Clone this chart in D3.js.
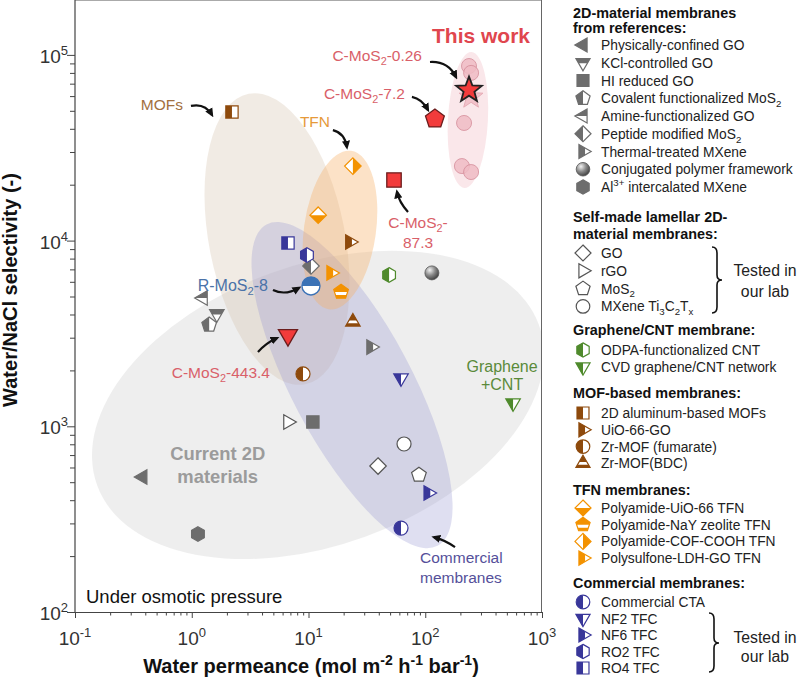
<!DOCTYPE html>
<html><head><meta charset="utf-8">
<script src="https://cdn.jsdelivr.net/npm/d3@7/dist/d3.min.js"></script>
<style>
body{margin:0;background:#fff;}
svg{display:block;font-family:"Liberation Sans",Arial,sans-serif;}
</style></head><body>
<svg id="c" width="800" height="679"></svg>
<script>
// ---------------- DATA ----------------
const names = [
  "Physically-confined GO","KCl-controlled GO","HI reduced GO","Covalent functionalized MoS_{2}",
  "Amine-functionalized GO","Peptide modified MoS_{2}","Thermal-treated MXene","Conjugated polymer framework",
  "Al^{3+} intercalated MXene",
  "GO","rGO","MoS_{2}","MXene Ti_{3}C_{2}T_{x}",
  "ODPA-functionalized CNT","CVD graphene/CNT network",
  "2D aluminum-based MOFs","UiO-66-GO","Zr-MOF (fumarate)","Zr-MOF(BDC)",
  "Polyamide-UiO-66 TFN","Polyamide-NaY zeolite TFN","Polyamide-COF-COOH TFN","Polysulfone-LDH-GO TFN",
  "Commercial CTA","NF2 TFC","NF6 TFC","RO2 TFC","RO4 TFC"
];
const permeance   = [0.38,1.64,10.9,1.41,1.25,10.5,34.3,114,1.13, 39.4,6.67,88.3,65.8, 49,565, 2.21,22.6,8.97,24, 12.1,19,24,15.6, 62,62,106,9.7,6.67];
const selectivity = [533,4030,1055,3520,4910,7300,2670,6700,263, 611,1055,547,803, 6530,1335, 49300,9820,1915,3650, 13700,5290,25200,6700, 283,1820,437,8360,9700];

// This work (other C-MoS2 samples, faded)
const thisWorkPerm = [237,247,215,206,247];
const thisWorkSel  = [87100,80000,43000,25200,23400];
const fadedStarPerm = [247];
const fadedStarSel  = [59300];

// Highlighted samples
const hlNames = ["C-MoS_{2}-0.26","C-MoS_{2}-7.2","C-MoS_{2}-87.3","C-MoS_{2}-443.4","R-MoS_{2}-8"];
const hlPerm  = [237,121,54,6.67,10.5];
const hlSel   = [64700,45200,21200,3100,5700];

// Legend groups
const groupTitles = [
  ["2D-material membranes","from references:"],
  ["Self-made lamellar 2D-","material membranes:"],
  ["Graphene/CNT membrane:"],
  ["MOF-based membranes:"],
  ["TFN membranes:"],
  ["Commercial membranes:"]
];
const groupMembers = [
  names.slice(0,9), names.slice(9,13), names.slice(13,15),
  names.slice(15,19), names.slice(19,23), names.slice(23,28)
];
const xTickLabels = [["10","-1"],["10","0"],["10","1"],["10","2"],["10","3"]];
const yTickLabels = [["10","2"],["10","3"],["10","4"],["10","5"]];

// ---------------- STYLE ----------------
const GRAY="#6d6d6d", GREEN="#4f8a2c", BROWN="#8e4a0c", ORANGE="#f39200", BLUE="#39379a", RED="#f23b3b";
const style = {};
const S=(n,shape,fill,color)=>style[n]={shape,fill,color};
S(names[0],"triLeft","full",GRAY); S(names[1],"triDown","topband",GRAY); S(names[2],"square","full",GRAY);
S(names[3],"pentagon","left",GRAY); S(names[4],"triLeft","top",GRAY); S(names[5],"diamond","left",GRAY);
S(names[6],"triRight","left",GRAY); S(names[7],"circle","sphere",GRAY); S(names[8],"hexagon","full",GRAY);
S(names[9],"diamond","none","#555"); S(names[10],"triRight","none","#555"); S(names[11],"pentagon","none","#555"); S(names[12],"circle","none","#555");
S(names[13],"hexagon","left",GREEN); S(names[14],"triDown","left",GREEN);
S(names[15],"square","left",BROWN); S(names[16],"triRight","left",BROWN); S(names[17],"circle","left",BROWN); S(names[18],"triUp","band",BROWN);
S(names[19],"diamond","bottom",ORANGE); S(names[20],"pentagon","band",ORANGE); S(names[21],"diamond","right",ORANGE); S(names[22],"triRight","left",ORANGE);
S(names[23],"circle","left",BLUE); S(names[24],"triDown","left",BLUE); S(names[25],"triRight","left",BLUE); S(names[26],"hexagon","left",BLUE); S(names[27],"square","left",BLUE);

// ---------------- SETUP ----------------
const svg = d3.select("#c");
const x = d3.scaleLog().domain([0.1,1000]).range([75,542]);
const y = d3.scaleLog().domain([100,2e5]).range([612,-1]);
const defs = svg.append("defs");

const clipRects = {left:[0,0,0.5,1],right:[0.5,0,0.5,1],top:[0,0,1,0.5],bottom:[0,0.5,1,0.5],
  topband:[0,0,1,0.38],bandW:[0,0.56,1,0.22],full:[0,0,1,1]};
Object.entries(clipRects).forEach(([k,r])=>{
  defs.append("clipPath").attr("id","cl-"+k).attr("clipPathUnits","objectBoundingBox")
    .append("rect").attr("x",r[0]).attr("y",r[1]).attr("width",r[2]).attr("height",r[3]);
});
const grad = defs.append("radialGradient").attr("id","sph").attr("cx","0.35").attr("cy","0.3").attr("r","0.75");
grad.append("stop").attr("offset","0").attr("stop-color","#f2f2f2");
grad.append("stop").attr("offset","0.5").attr("stop-color","#8a8a8a");
grad.append("stop").attr("offset","1").attr("stop-color","#3c3c3c");
defs.append("marker").attr("id","arr").attr("viewBox","0 0 10 10").attr("refX",7).attr("refY",5)
  .attr("markerWidth",9).attr("markerHeight",9).attr("markerUnits","userSpaceOnUse").attr("orient","auto")
  .append("path").attr("d","M0,0.5L10,5L0,9.5Z").attr("fill","#111");
defs.append("clipPath").attr("id","plotclip").append("rect").attr("x",75).attr("y",0).attr("width",467).attr("height",612);

function poly(n,R,a0){const p=[];for(let i=0;i<n;i++){const a=(a0+360*i/n)*Math.PI/180;p.push([R*Math.cos(a),R*Math.sin(a)]);}return "M"+p.map(d=>d[0].toFixed(2)+","+d[1].toFixed(2)).join("L")+"Z";}
function star(R){const p=[];for(let i=0;i<10;i++){const a=(-90+36*i)*Math.PI/180;const rr=i%2?R*0.42:R;p.push([rr*Math.cos(a),rr*Math.sin(a)]);}return "M"+p.map(d=>d[0].toFixed(2)+","+d[1].toFixed(2)).join("L")+"Z";}
const shapePath = {
  square:r=>{const s=r*0.88;return `M${-s},${-s}H${s}V${s}H${-s}Z`;},
  circle:r=>`M${r},0A${r},${r} 0 1,1 ${-r},0A${r},${r} 0 1,1 ${r},0Z`,
  triUp:r=>poly(3,r*1.2,-90), triDown:r=>poly(3,r*1.2,90), triLeft:r=>poly(3,r*1.2,180), triRight:r=>poly(3,r*1.2,0),
  diamond:r=>poly(4,r*1.18,-90), pentagon:r=>poly(5,r*1.1,-90), hexagon:r=>poly(6,r*1.05,-90), star:r=>star(r)
};
function marker(g, shape, fill, color, r, opts={}){
  const d = shapePath[shape](r);
  const stroke = opts.stroke||color, sw = opts.sw||1.2;
  if(fill==="full"){ g.append("path").attr("d",d).attr("fill",color).attr("stroke",stroke).attr("stroke-width",sw); return; }
  if(fill==="sphere"){ g.append("path").attr("d",d).attr("fill","url(#sph)").attr("stroke","#555").attr("stroke-width",0.8); return; }
  if(fill==="band"){
    g.append("path").attr("d",d).attr("fill",color);
    g.append("path").attr("d",d).attr("fill","#fff").attr("clip-path","url(#cl-bandW)");
  } else {
    g.append("path").attr("d",d).attr("fill","#fff");
    if(fill!=="none") g.append("path").attr("d",d).attr("fill",color).attr("clip-path",`url(#cl-${fill})`);
  }
  g.append("path").attr("d",d).attr("fill","none").attr("stroke",stroke).attr("stroke-width",sw);
}
function rich(t, str, fs){
  const re=/([_^])\{([^}]*)\}/g; let last=0,m,shift=0;
  const add=(s,off,small)=>{t.append("tspan").attr("dy",(off-shift).toFixed(2)).attr("font-size",small?fs*0.7:null).text(s);shift=off;};
  while((m=re.exec(str))){ if(m.index>last) add(str.slice(last,m.index),0,false); add(m[2], m[1]==="_"?0.28*fs:-0.42*fs, true); last=re.lastIndex; }
  if(last<str.length) add(str.slice(last),0,false);
  else if(shift!==0) t.append("tspan").attr("dy",-shift).text("");
  return t;
}

// ---------------- ELLIPSES ----------------
const eg = svg.append("g").attr("clip-path","url(#plotclip)");
const ellipses = [
  {px:12.05,py:1303, rx:235, ry:140, rot:-20, fill:"#c6c6c6", op:0.3},
  {px:5.37, py:10200,rx:68,  ry:148, rot:-11, fill:"#d5c0ac", op:0.32},
  {px:23.6, py:1667, rx:60,  ry:182, rot:-28, fill:"#9595cf", op:0.3},
  {px:18.6, py:11400,rx:36,  ry:80,  rot:8,   fill:"#f7b064", op:0.36},
  {px:232,  py:44600,rx:20,  ry:68,  rot:3,   fill:"#eeb0b8", op:0.3}
];
eg.selectAll("ellipse").data(ellipses).join("ellipse")
  .attr("transform",d=>`translate(${x(d.px)},${y(d.py)}) rotate(${d.rot})`)
  .attr("rx",d=>d.rx).attr("ry",d=>d.ry).attr("fill",d=>d.fill).attr("opacity",d=>d.op);

// ---------------- AXES ----------------
const ax = svg.append("g");
ax.append("line").attr("x1",75).attr("x2",542).attr("y1",0.5).attr("y2",0.5).attr("stroke","#aaa");
ax.append("line").attr("x1",541.5).attr("x2",541.5).attr("y1",0).attr("y2",612.5).attr("stroke","#666");
const yTicks=[], xTicks=[];
for(let k=2;k<=5;k++) for(let m=1;m<=9;m++){const v=m*Math.pow(10,k); if(v<=2e5) yTicks.push(v);}
for(let k=-1;k<=3;k++) for(let m=1;m<=9;m++){const v=m*Math.pow(10,k); if(v<=1000+1e-9) xTicks.push(v);}
const yAx = svg.append("g").attr("transform","translate(75,0)").call(d3.axisLeft(y).tickValues(yTicks).tickFormat("").tickSizeOuter(0));
const xAx = svg.append("g").attr("transform","translate(0,612)").call(d3.axisBottom(x).tickValues(xTicks).tickFormat("").tickSizeOuter(0));
[yAx,xAx].forEach(a=>{a.select(".domain").attr("stroke","#444").attr("stroke-width",1.2);a.selectAll(".tick line").attr("stroke","#444");});
yAx.selectAll(".tick line").attr("x2",d=>Math.abs(Math.log10(d)%1)<1e-9?-8:-5);
xAx.selectAll(".tick line").attr("y2",d=>Math.abs(Math.log10(d)%1)<1e-9?6:3.5);
yAx.select(".domain").attr("d","M0,612.5V0");
[100,1000,1e4,1e5].forEach((v,i)=>{
  const t=svg.append("text").attr("x",68).attr("y",y(v)+8).attr("text-anchor","end").attr("font-size",19).attr("fill","#333");
  t.append("tspan").text(yTickLabels[i][0]);
  t.append("tspan").attr("dy",-8).attr("font-size",13).text(yTickLabels[i][1]);
});
[0.1,1,10,100,1000].forEach((v,i)=>{
  const t=svg.append("text").attr("x",x(v)).attr("y",645).attr("text-anchor","middle").attr("font-size",19).attr("fill","#333");
  t.append("tspan").text(xTickLabels[i][0]);
  t.append("tspan").attr("dy",-8).attr("font-size",13).text(xTickLabels[i][1]);
});
// axis titles
const xt = svg.append("text").attr("x",311).attr("y",673).attr("text-anchor","middle").attr("font-size",20).attr("font-weight","bold").attr("fill","#111");
rich(xt,"Water permeance (mol m^{-2} h^{-1} bar^{-1})",20);
svg.append("text").attr("transform","translate(17,290) rotate(-90)").attr("text-anchor","middle").attr("font-size",20).attr("font-weight","bold").attr("fill","#111").text("Water/NaCl selectivity (-)");

// ---------------- POINTS ----------------
const pg = svg.append("g");
names.forEach((n,i)=>{
  const s=style[n];
  const g=pg.append("g").attr("transform",`translate(${x(permeance[i])},${y(selectivity[i])})`);
  marker(g,s.shape,s.fill,s.color,7);
});
thisWorkPerm.forEach((p,i)=>{
  const g=pg.append("g").attr("transform",`translate(${x(p)},${y(thisWorkSel[i])})`).attr("opacity",0.85);
  marker(g,"circle","full","#f0bcc5",7.5,{stroke:"#d78f9c",sw:1});
});
fadedStarPerm.forEach((p,i)=>{
  const g=pg.append("g").attr("transform",`translate(${x(p)},${y(fadedStarSel[i])})`).attr("opacity",0.85);
  marker(g,"star","full","#f0bcc5",12.5,{stroke:"#e3a3ae",sw:1});
});
const hlShapes=[["star",13.5],["pentagon",9],["square",8.2],["triDown",9.2],["circle",9]];
hlPerm.forEach((p,i)=>{
  const g=pg.append("g").attr("transform",`translate(${x(p)},${y(hlSel[i])})`);
  if(i===4) marker(g,"circle","top","#3b72b6",9,{stroke:"#3b72b6",sw:1.4});
  else marker(g,hlShapes[i][0],"full",RED,hlShapes[i][1],{stroke:i===0?"#222":"#6b1c1c",sw:i===0?1.8:1.3});
});

// ---------------- ANNOTATIONS ----------------
const an = svg.append("g");
function arrow(px,py,a){
  const p=d3.path(); p.moveTo(px+a[0],py+a[1]); p.quadraticCurveTo(px+a[2],py+a[3],px+a[4],py+a[5]);
  an.append("path").attr("d",p.toString()).attr("fill","none").attr("stroke","#111").attr("stroke-width",2.2).attr("marker-end","url(#arr)");
}
function label(px,py,lines,opt){
  lines.forEach((L,k)=>{
    const t=an.append("text").attr("x",px+opt.dx).attr("y",py+opt.dy[k]).attr("text-anchor",opt.anchor)
      .attr("font-size",opt.fs).attr("fill",opt.color).attr("font-weight",opt.bold?"bold":null);
    rich(t,L,opt.fs);
  });
}
// MOFs
{const px=x(permeance[15]),py=y(selectivity[15]);
 label(px,py,["MOFs"],{dx:-49,dy:[-2],anchor:"end",fs:15.5,color:"#a2703f"});
 arrow(px,py,[-41,-6,-27,-9,-20,3]);}
// TFN
{const px=x(permeance[21]),py=y(selectivity[21]);
 label(px,py,["TFN"],{dx:-53,dy:[-39],anchor:"start",fs:15.5,color:"#e69a3a"});
 arrow(px,py,[-20,-36,-8,-33,-6,-19]);}
// This work + C-MoS2-0.26
{const px=x(hlPerm[0]),py=y(hlSel[0]);
 label(px,py,["This work"],{dx:12,dy:[-47],anchor:"middle",fs:21,color:"#e0464e",bold:true});
 label(px,py,[hlNames[0]],{dx:-47,dy:[-29],anchor:"end",fs:15.5,color:"#d95f69"});
 arrow(px,py,[-39,-28,-21,-29,-13,-13]);}
{const px=x(hlPerm[1]),py=y(hlSel[1]);
 label(px,py,[hlNames[1]],{dx:-30,dy:[-20],anchor:"end",fs:15.5,color:"#d95f69"});
 arrow(px,py,[-23,-22,-13,-20,-7,-9]);}
{const px=x(hlPerm[2]),py=y(hlSel[2]);
 label(px,py,["C-MoS_{2}-","87.3"],{dx:24,dy:[48,68],anchor:"middle",fs:15.5,color:"#d95f69"});
 arrow(px,py,[14,32,5,22,3,12]);}
{const px=x(hlPerm[3]),py=y(hlSel[3]);
 label(px,py,[hlNames[3]],{dx:-18,dy:[43],anchor:"end",fs:15.5,color:"#d95f69"});
 arrow(px,py,[-30,17,-22,8,-11,3]);}
{const px=x(hlPerm[4]),py=y(hlSel[4]);
 label(px,py,[hlNames[4]],{dx:-43,dy:[5],anchor:"end",fs:16,color:"#4a72a8"});
 arrow(px,py,[-38,4,-26,10,-12,2]);}
// Graphene + CNT
{const px=x(permeance[14]),py=y(selectivity[14]);
 label(px,py,["Graphene","+CNT"],{dx:-11,dy:[-31,-13],anchor:"middle",fs:16,color:"#5a8a3a"});}
// Commercial membranes
{const px=x(permeance[23]),py=y(selectivity[23]);
 label(px,py,["Commercial","membranes"],{dx:19,dy:[35,55],anchor:"start",fs:15.5,color:"#55509a"});
 arrow(px,py,[54,19,44,12,33,9]);}
// Current 2D materials
{const px=x(permeance[0]),py=y(selectivity[0]);
 label(px,py,["Current 2D","materials"],{dx:75,dy:[-17,6],anchor:"middle",fs:18.4,color:"#9b9b9b",bold:true});}
an.append("text").attr("x",86).attr("y",603).attr("font-size",18.5).attr("fill","#111").text("Under osmotic pressure");

// ---------------- LEGEND ----------------
const lg = svg.append("g");
const layout = [
  {titles:[12.5,27.5], first:45, step:17.75},
  {titles:[217,234], first:253, step:17.8},
  {titles:[330], first:350, step:17},
  {titles:[393], first:413, step:16.8},
  {titles:[490], first:508, step:16.7},
  {titles:[583], first:602, step:16.5}
];
groupTitles.forEach((tt,gi)=>{
  const L=layout[gi];
  tt.forEach((t,k)=>lg.append("text").attr("x",573).attr("y",L.titles[k]+5).attr("font-size",14.4).attr("font-weight","bold").attr("fill","#111").text(t));
  groupMembers[gi].forEach((n,k)=>{
    const cy=L.first+k*L.step, s=style[n];
    const g=lg.append("g").attr("transform",`translate(583,${cy})`);
    marker(g,s.shape,s.fill,s.color,6.8);
    const t=lg.append("text").attr("x",601).attr("y",cy+5).attr("font-size",13.8).attr("fill","#222");
    rich(t,n,13.8);
  });
});
function brace(x0,y0,y1,ym){
  const p=`M${x0},${y0} Q${x0+5},${y0} ${x0+5},${y0+6} L${x0+5},${ym-5} Q${x0+5},${ym} ${x0+10},${ym} Q${x0+5},${ym} ${x0+5},${ym+5} L${x0+5},${y1-6} Q${x0+5},${y1} ${x0},${y1}`;
  lg.append("path").attr("d",p).attr("fill","none").attr("stroke","#111").attr("stroke-width",1.6);
}
brace(712,247,313,280);
brace(709,613,672,643);
[[276,297],[643,662]].forEach(b=>{
  lg.append("text").attr("x",765).attr("y",b[0]).attr("text-anchor","middle").attr("font-size",15.8).attr("fill","#222").text("Tested in");
  lg.append("text").attr("x",765).attr("y",b[1]).attr("text-anchor","middle").attr("font-size",15.8).attr("fill","#222").text("our lab");
});
</script>
</body></html>
